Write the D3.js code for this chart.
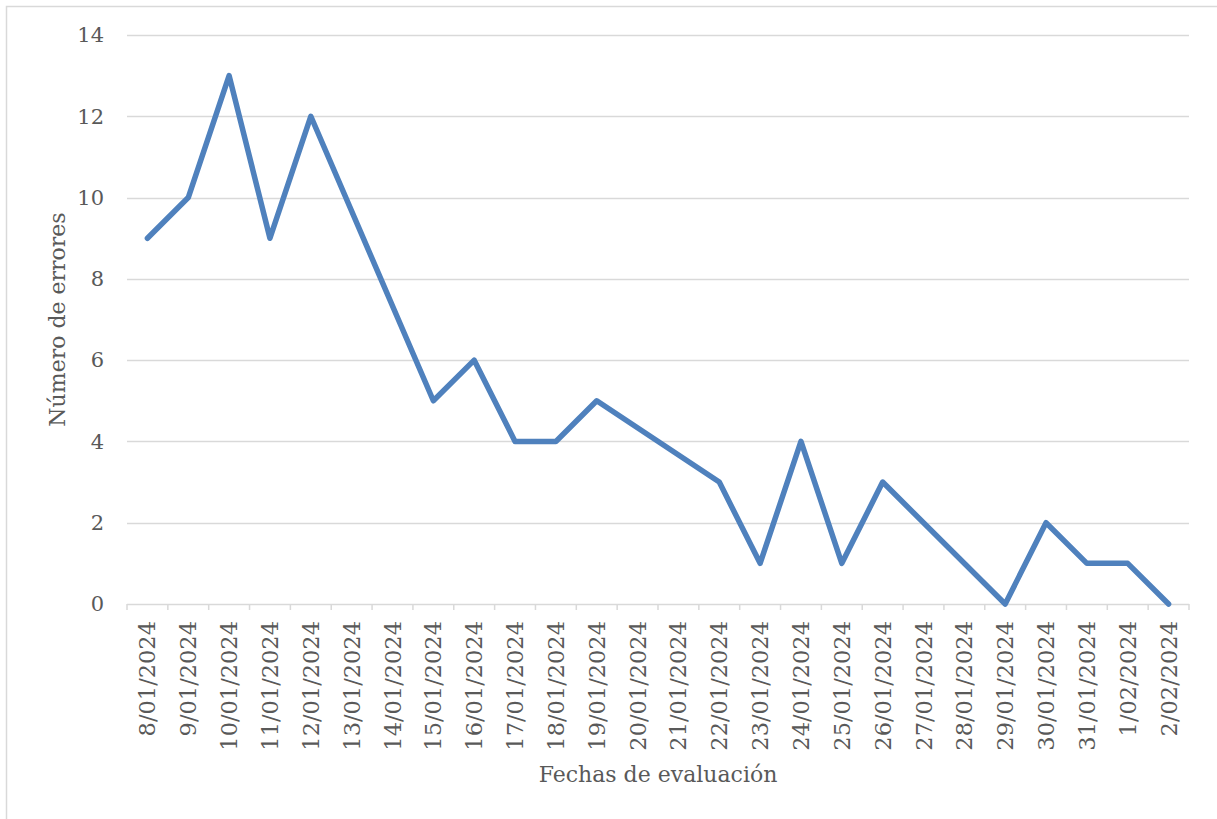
<!DOCTYPE html>
<html>
<head>
<meta charset="utf-8">
<script src="https://cdn.jsdelivr.net/npm/d3@7"></script>
<style>
  html, body { margin: 0; padding: 0; background: #fff; }
  svg { display: block; }
</style>
</head>
<body>
<svg id="chart"></svg>
<script>
// fechas de evaluacion (categorias del eje x)
const fechas = ['8/01/2024', '9/01/2024', '10/01/2024', '11/01/2024', '12/01/2024',
    '13/01/2024', '14/01/2024', '15/01/2024', '16/01/2024', '17/01/2024',
    '18/01/2024', '19/01/2024', '20/01/2024', '21/01/2024', '22/01/2024',
    '23/01/2024', '24/01/2024', '25/01/2024', '26/01/2024', '27/01/2024',
    '28/01/2024', '29/01/2024', '30/01/2024', '31/01/2024', '1/02/2024', '2/02/2024']
// null = sin dato, la linea une los puntos vecinos (como en Excel)
const errores = [9, 10, 13, 9, 12, null, null, 5, 6, 4, 4, 5, null, null, 3, 1, 4, 1, 3, null, null, 0, 2, 1, 1, 0]
const yTicks = [0, 2, 4, 6, 8, 10, 12, 14]

const config = {
    width: 1217,
    height: 819,
    margin: {top: 35, right: 28, bottom: 215, left: 127}
}

const svg = d3.select('#chart')
    .attr('width', config.width)
    .attr('height', config.height)

const width = config.width - config.margin.left - config.margin.right
const height = config.height - config.margin.top - config.margin.bottom
const textColor = '#595959'
const gridColor = '#d9d9d9'
const font = 'DejaVu Serif, serif'

// marco del grafico
svg.append('rect')
    .attr('x', 6.5).attr('y', 6.5)
    .attr('width', config.width).attr('height', config.height)
    .attr('fill', 'none')
    .attr('stroke', gridColor)
    .attr('stroke-width', 1.5)

const g = svg.append('g')
    .attr('transform', `translate(${config.margin.left},${config.margin.top})`)

const x = d3.scaleBand().domain(fechas).range([0, width])
const y = d3.scaleLinear().domain([0, 14]).range([height, 0])

// lineas de cuadricula
g.append('g')
    .selectAll('line')
    .data(yTicks.filter(d => d > 0))
    .join('line')
        .attr('x1', 0).attr('x2', width)
        .attr('y1', d => Math.round(y(d)) + 0.5)
        .attr('y2', d => Math.round(y(d)) + 0.5)
        .attr('stroke', gridColor)
        .attr('stroke-width', 1.5)

// eje y
const yAxis = g.append('g')
    .call(d3.axisLeft(y).tickValues(yTicks).tickSize(0).tickPadding(23))
yAxis.select('.domain').remove()
yAxis.selectAll('text')
    .attr('fill', textColor)
    .attr('font-family', font)
    .attr('font-size', 21)

// eje x: marcas entre categorias
const xAxis = g.append('g')
    .attr('transform', `translate(0,${height})`)
xAxis.append('line')
    .attr('x1', 0).attr('x2', width)
    .attr('y1', 0.5).attr('y2', 0.5)
    .attr('stroke', gridColor)
    .attr('stroke-width', 1.5)
xAxis.selectAll('.tick-mark')
    .data(fechas.concat(['fin']))
    .join('line')
        .attr('class', 'tick-mark')
        .attr('x1', (d, i) => i < fechas.length ? x(d) : width)
        .attr('x2', (d, i) => i < fechas.length ? x(d) : width)
        .attr('y1', 0).attr('y2', 6)
        .attr('stroke', gridColor)
        .attr('stroke-width', 1.5)
xAxis.selectAll('.tick-label')
    .data(fechas)
    .join('text')
        .attr('class', 'tick-label')
        .attr('transform', d => `translate(${x(d) + x.bandwidth() / 2 + 8},17) rotate(-90)`)
        .attr('text-anchor', 'end')
        .attr('fill', textColor)
        .attr('font-family', font)
        .attr('font-size', 22.5)
        .text(d => d)

// linea de datos
const puntos = fechas.map((f, i) => ({fecha: f, valor: errores[i]}))
    .filter(d => d.valor !== null)

g.append('path')
    .datum(puntos)
    .attr('fill', 'none')
    .attr('stroke', '#4f81bd')
    .attr('stroke-width', 5.5)
    .attr('stroke-linejoin', 'round')
    .attr('stroke-linecap', 'round')
    .attr('d', d3.line()
        .x(d => x(d.fecha) + x.bandwidth() / 2)
        .y(d => y(d.valor)))

// titulos de los ejes
svg.append('text')
    .attr('x', config.margin.left + width / 2)
    .attr('y', 782)
    .attr('text-anchor', 'middle')
    .attr('fill', textColor)
    .attr('font-family', font)
    .attr('font-size', 22)
    .text('Fechas de evaluación')

svg.append('text')
    .attr('transform', `translate(65,${config.margin.top + height / 2}) rotate(-90)`)
    .attr('text-anchor', 'middle')
    .attr('fill', textColor)
    .attr('font-family', font)
    .attr('font-size', 22)
    .text('Número de errores')
</script>
</body>
</html>
